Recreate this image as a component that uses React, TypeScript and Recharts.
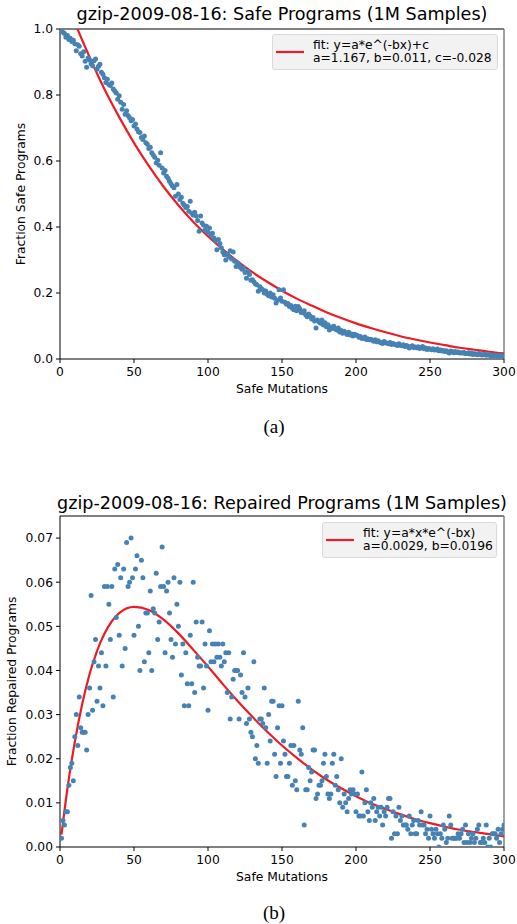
import React from "react";
import { ComposedChart, Scatter, Line, XAxis, YAxis, Legend, ReferenceLine } from "recharts";

const mutationTicks = [0, 50, 100, 150, 200, 250, 300];
const safeTicks = [0, 0.2, 0.4, 0.6, 0.8, 1.0];
const repairedTicks = [0, 0.01, 0.02, 0.03, 0.04, 0.05, 0.06, 0.07];

// fraction of safe programs, one point per safe-mutation count (1..300)
const safeFraction = [
  0.997, 0.99, 0.986, 0.975, 0.98, 0.968, 0.972, 0.962, 0.966, 0.955,
  0.934, 0.952, 0.948, 0.925, 0.918, 0.931, 0.902, 0.884, 0.912, 0.906,
  0.895, 0.889, 0.904, 0.909, 0.878, 0.887, 0.893, 0.869, 0.863, 0.852,
  0.838, 0.848, 0.832, 0.829, 0.836, 0.818, 0.812, 0.806, 0.787, 0.798,
  0.778, 0.757, 0.771, 0.742, 0.752, 0.738, 0.731, 0.722, 0.726, 0.706,
  0.712, 0.697, 0.689, 0.686, 0.671, 0.665, 0.676, 0.655, 0.651, 0.638,
  0.642, 0.625, 0.618, 0.611, 0.594, 0.602, 0.587, 0.625, 0.579, 0.564,
  0.571, 0.554, 0.548, 0.539, 0.531, 0.524, 0.519, 0.493, 0.529, 0.5,
  0.483, 0.49, 0.472, 0.466, 0.459, 0.462, 0.448, 0.478, 0.442, 0.436,
  0.445, 0.433, 0.42, 0.387, 0.433, 0.412, 0.405, 0.391, 0.402, 0.384,
  0.397, 0.376, 0.381, 0.367, 0.358, 0.331, 0.362, 0.35, 0.337, 0.324,
  0.316, 0.3, 0.318, 0.309, 0.328, 0.303, 0.324, 0.296, 0.28, 0.291,
  0.284, 0.277, 0.272, 0.276, 0.262, 0.245, 0.266, 0.256, 0.239, 0.24,
  0.234, 0.228, 0.225, 0.205, 0.219, 0.214, 0.21, 0.2, 0.206, 0.196,
  0.192, 0.2, 0.188, 0.195, 0.184, 0.17, 0.178, 0.21, 0.185, 0.175,
  0.21, 0.172, 0.166, 0.168, 0.159, 0.162, 0.154, 0.149, 0.16, 0.146,
  0.159, 0.152, 0.141, 0.14, 0.146, 0.134, 0.128, 0.136, 0.13, 0.121,
  0.126, 0.115, 0.094, 0.118, 0.112, 0.108, 0.118, 0.103, 0.11, 0.098,
  0.104, 0.088, 0.097, 0.093, 0.099, 0.091, 0.088, 0.094, 0.082, 0.086,
  0.078, 0.084, 0.079, 0.074, 0.081, 0.073, 0.076, 0.07, 0.075, 0.073,
  0.071, 0.066, 0.068, 0.062, 0.063, 0.067, 0.059, 0.061, 0.058, 0.06,
  0.057, 0.054, 0.058, 0.052, 0.055, 0.051, 0.049, 0.047, 0.053, 0.05,
  0.048, 0.046, 0.05, 0.044, 0.047, 0.045, 0.043, 0.041, 0.046, 0.042,
  0.04, 0.043, 0.038, 0.041, 0.039, 0.033, 0.037, 0.04, 0.035, 0.036,
  0.034, 0.037, 0.032, 0.035, 0.038, 0.031, 0.033, 0.029, 0.032, 0.03,
  0.028, 0.031, 0.027, 0.028, 0.03, 0.025, 0.027, 0.024, 0.026, 0.023,
  0.025, 0.021, 0.018, 0.024, 0.022, 0.019, 0.023, 0.02, 0.021, 0.018,
  0.019, 0.018, 0.02, 0.016, 0.017, 0.019, 0.015, 0.018, 0.014, 0.016,
  0.015, 0.013, 0.017, 0.014, 0.012, 0.013, 0.015, 0.011, 0.013, 0.012,
  0.01, 0.012, 0.009, 0.011, 0.01, 0.008, 0.011, 0.009, 0.008, 0.01,
];

// fraction of repaired programs in thousandths, one point per count (1..300)
const repairedPerMille = [
  2, 6, 5, 8, 8, 14, 18, 19, 15, 25,
  30, 23, 34, 27, 26, 26, 26, 22, 30, 36,
  57, 31, 42, 47, 33, 41, 36, 44, 32, 59,
  41, 59, 55, 47, 59, 34, 63, 52, 64, 48,
  61, 41, 63, 45, 69, 59, 60, 70, 61, 48,
  63, 66, 50, 40, 65, 61, 42, 53, 53, 44,
  58, 40, 54, 53, 62, 47, 51, 59, 68, 59,
  44, 58, 60, 53, 47, 43, 61, 46, 55, 50,
  60, 39, 46, 32, 44, 37, 32, 48, 37, 60,
  35, 51, 43, 41, 41, 51, 36, 46, 41, 31,
  49, 42, 46, 42, 46, 43, 46, 43, 41, 46,
  42, 44, 35, 44, 29, 34, 38, 40, 40, 40,
  29, 39, 35, 44, 34, 28, 36, 29, 26, 25,
  42, 20, 23, 19, 29, 29, 28, 36, 27, 19,
  30, 24, 33, 33, 21, 16, 27, 32, 19, 32,
  24, 21, 16, 16, 19, 23, 14, 23, 15, 13,
  33, 22, 21, 27, 5, 13, 13, 18, 15, 17,
  22, 22, 11, 12, 14, 14, 15, 19, 21, 16,
  12, 11, 12, 19, 21, 14, 16, 13, 10, 20,
  9, 12, 10, 8, 11, 13, 12, 13, 12, 8,
  12, 7, 7, 17, 7, 10, 13, 8, 6, 10,
  9, 11, 6, 8, 9, 7, 9, 5, 8, 7,
  9, 11, 11, 2, 8, 3, 7, 3, 9, 6,
  7, 5, 5, 5, 4, 7, 3, 5, 6, 3,
  3, 6, 5, 8, 5, 5, 3, 4, 2, 7,
  4, 3, 2, 4, 3, 0, 3, 2, 5, 4,
  1, 2, 7, 5, 2, 2, 2, 2, 3, 2,
  3, 4, 1, 5, 1, 3, 1, 2, 3, 1,
  2, 4, 5, 1, 1, 2, 1, 5, 0, 2,
  0, 3, 3, 3, 2, 4, 1, 3, 4, 5,
];

// red fit curves
const safeFitX = [0, 10, 20, 30, 40, 50, 60, 70, 80, 90, 100, 110, 120, 130, 140, 150,
  160, 170, 180, 190, 200, 210, 220, 230, 240, 250, 260, 270, 280, 290, 300];
const safeFit = [1.139, 1.02, 0.915, 0.818, 0.733, 0.655, 0.585, 0.522, 0.466, 0.416, 0.372,
  0.332, 0.296, 0.263, 0.234, 0.207, 0.183, 0.162, 0.142, 0.124, 0.108, 0.094, 0.081,
  0.069, 0.059, 0.05, 0.042, 0.034, 0.028, 0.022, 0.017];

const repairedFitX = [1, 5, 10, 15, 20, 25, 30, 40, 50, 60, 70, 80, 90, 100, 110, 120, 130,
  140, 150, 160, 170, 180, 190, 200, 210, 220, 230, 240, 250, 260, 270, 280, 290, 300];
const repairedFit = [0.0028, 0.0132, 0.0238, 0.0324, 0.0392, 0.0444, 0.0483, 0.053, 0.0544,
  0.0537, 0.0515, 0.0484, 0.0447, 0.0409, 0.0369, 0.0331, 0.0295, 0.0261, 0.023, 0.0202,
  0.0176, 0.0153, 0.0133, 0.0115, 0.0099, 0.0086, 0.0074, 0.0063, 0.0054, 0.0046, 0.0039,
  0.0034, 0.0029, 0.0024];

const FONT = "'DejaVu Sans', sans-serif";
const DOT = "#4682b4";
const RED = "#ec1c24";

const safePoints = safeFraction.map((y, i) => ({ x: i + 1, y }));
const repairedPoints = repairedPerMille.map((v, i) => ({ x: i + 1, y: v / 1000 }));
const safeFitData = safeFitX.map((x, i) => ({ x, y: safeFit[i] }));
const repairedFitData = repairedFitX.map((x, i) => ({ x, y: repairedFit[i] }));

const tickStyle = { fontSize: 12.3, fill: "#000", fontFamily: FONT };

const Dot = (props: any) => <circle cx={props.cx} cy={props.cy} r={2.5} fill={DOT} />;

const yLabel = (text: string, cx: number) => (props: any) => {
  const vb = props.viewBox;
  const cy = vb.y + vb.height / 2;
  return (
    <text x={cx} y={cy} transform={`rotate(-90 ${cx} ${cy})`} textAnchor="middle"
      dominantBaseline="central" fontSize={12.3} fontFamily={FONT} fill="#000">{text}</text>
  );
};

const xLabel = (text: string) => (props: any) => {
  const vb = props.viewBox;
  return (
    <text x={vb.x + vb.width / 2} y={vb.y + 30} textAnchor="middle" dominantBaseline="central"
      fontSize={12.3} fontFamily={FONT} fill="#000">{text}</text>
  );
};

const FitLegend = ({ lines, width, textGap }: { lines: string[]; width: number; textGap: number }) => (
  <div style={{
    boxSizing: "border-box", width, height: 36, background: "#f2f2f2", border: "1px solid #dadada",
    borderRadius: 3, display: "flex", alignItems: "center", paddingLeft: 3, fontFamily: FONT,
    fontSize: 12.3, lineHeight: "13.3px", color: "#000",
  }}>
    <svg width={28} height={4} style={{ marginRight: textGap, flex: "none" }}>
      <line x1={0} y1={2} x2={28} y2={2} stroke={RED} strokeWidth={2.2} />
    </svg>
    <div style={{ whiteSpace: "nowrap" }}>{lines.map((l) => <div key={l}>{l}</div>)}</div>
  </div>
);

const title = (text: string, top: number) => (
  <div style={{ position: "absolute", left: 0, width: 564, top, textAlign: "center", fontFamily: FONT,
    fontSize: 17.6, lineHeight: "20px", whiteSpace: "nowrap", color: "#000" }}>{text}</div>
);

const caption = (text: string, top: number) => (
  <div style={{ position: "absolute", left: 274, top, transform: "translateX(-50%)",
    fontFamily: "'Liberation Serif', 'Times New Roman', serif", fontSize: 19, lineHeight: "22px" }}>{text}</div>
);

const App: React.FC = () => {
  return (
    <div style={{ position: "absolute", left: 0, top: 0, width: 517, height: 924, background: "#fff" }}>
      {title("gzip-2009-08-16: Safe Programs (1M Samples)", 4)}
      <div style={{ position: "absolute", left: 0, top: 0 }}>
        <ComposedChart width={517} height={400} margin={{ top: 29, right: 13, bottom: 11, left: 0 }}>
          <XAxis type="number" dataKey="x" domain={[0, 300]} ticks={mutationTicks} allowDataOverflow
            height={30} tick={tickStyle} tickSize={4} tickMargin={4}
            axisLine={{ stroke: "#000" }} tickLine={{ stroke: "#000" }}
            label={{ content: xLabel("Safe Mutations") }} />
          <YAxis type="number" domain={[0, 1]} ticks={safeTicks} allowDataOverflow width={60}
            tick={tickStyle} tickSize={4} tickMargin={3} tickFormatter={(v: number) => v.toFixed(1)}
            axisLine={{ stroke: "#000" }} tickLine={{ stroke: "#000" }}
            label={{ content: yLabel("Fraction Safe Programs", 21) }} />
          <ReferenceLine y={1} stroke="#000" />
          <ReferenceLine x={300} stroke="#808080" strokeWidth={1.5} />
          <Scatter data={safePoints} dataKey="y" shape={Dot} legendType="none" isAnimationActive={false} />
          <Line data={safeFitData} dataKey="y" type="monotone" stroke={RED} strokeWidth={2.2} dot={false}
            isAnimationActive={false} />
          <Legend layout="horizontal" verticalAlign="middle" align="center"
            wrapperStyle={{ left: 272, top: 34, width: 226 }}
            content={() => <FitLegend width={226} textGap={9}
              lines={["fit: y=a*e^(-bx)+c", "a=1.167, b=0.011, c=-0.028"]} />} />
        </ComposedChart>
      </div>
      {caption("(a)", 416)}

      {title("gzip-2009-08-16: Repaired Programs (1M Samples)", 493)}
      <div style={{ position: "absolute", left: 0, top: 480 }}>
        <ComposedChart width={517} height={410} margin={{ top: 36, right: 13, bottom: 13, left: 0 }}>
          <XAxis type="number" dataKey="x" domain={[0, 300]} ticks={mutationTicks} allowDataOverflow
            height={30} tick={tickStyle} tickSize={4} tickMargin={4}
            axisLine={{ stroke: "#000" }} tickLine={{ stroke: "#000" }}
            label={{ content: xLabel("Safe Mutations") }} />
          <YAxis type="number" domain={[0, 0.075]} ticks={repairedTicks} allowDataOverflow width={60}
            tick={tickStyle} tickSize={4} tickMargin={3} tickFormatter={(v: number) => v.toFixed(2)}
            axisLine={{ stroke: "#000" }} tickLine={{ stroke: "#000" }}
            label={{ content: yLabel("Fraction Repaired Programs", 12) }} />
          <ReferenceLine y={0.075} stroke="#000" />
          <ReferenceLine x={300} stroke="#808080" strokeWidth={1.5} />
          <Scatter data={repairedPoints} dataKey="y" shape={Dot} legendType="none" isAnimationActive={false} />
          <Line data={repairedFitData} dataKey="y" type="monotone" stroke={RED} strokeWidth={2.2} dot={false}
            isAnimationActive={false} />
          <Legend layout="horizontal" verticalAlign="middle" align="center"
            wrapperStyle={{ left: 322, top: 42, width: 175 }}
            content={() => <FitLegend width={175} textGap={9}
              lines={["fit: y=a*x*e^(-bx)", "a=0.0029, b=0.0196"]} />} />
        </ComposedChart>
      </div>
      {caption("(b)", 902)}
    </div>
  );
};

export default App;
